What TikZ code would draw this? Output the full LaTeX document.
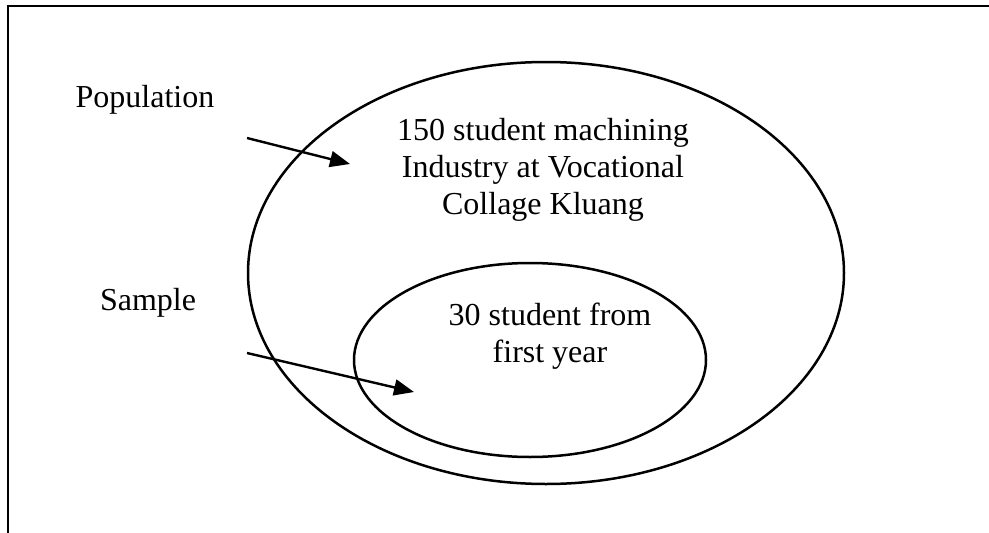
\documentclass[tikz,border=0pt]{standalone}
\usepackage{fontspec}
\setmainfont{Liberation Serif}
\usetikzlibrary{arrows.meta,shapes.geometric}
\begin{document}
\begin{tikzpicture}[x=1pt,y=-1pt,
  label/.style={font=\fontsize{32}{37}\selectfont, align=center, inner sep=0pt},
  setshape/.style={draw, ellipse, line width=2.5pt, inner sep=0pt},
  pointer/.style={line width=2.4pt, -{Triangle[length=20pt,width=16pt]}},
  frameline/.style={line width=2.8pt}]
  \useasboundingbox (0,0) rectangle (989,533);
  % open frame: top edge and left edge
  \coordinate (frameTR) at (989,6);
  \coordinate (frameTL) at (8,6);
  \coordinate (frameBL) at (8,533);
  \draw[frameline] (frameTR) -- (frameTL) -- (frameBL);
  % population and sample sets
  \node[setshape, minimum width=596pt, minimum height=422pt] (outer) at (546,273) {};
  \node[setshape, minimum width=352pt, minimum height=194pt] (inner) at (530,360) {};
  % set descriptions
  \node[label] (popText) at (543,170) {150 student machining\\Industry at Vocational\\Collage Kluang};
  \node[label] (sampText) at (550,336) {30 student from\\first year};
  % side labels
  \node[label] (popLbl) at (145,100) {Population};
  \node[label] (sampLbl) at (148,303) {Sample};
  % pointers into the sets
  \coordinate (popTail) at (247,138);
  \coordinate (popHead) at (350,164);
  \coordinate (sampTail) at (247,353);
  \coordinate (sampHead) at (414,392);
  \draw[pointer] (popTail) -- (popHead);
  \draw[pointer] (sampTail) -- (sampHead);
\end{tikzpicture}
\end{document}
